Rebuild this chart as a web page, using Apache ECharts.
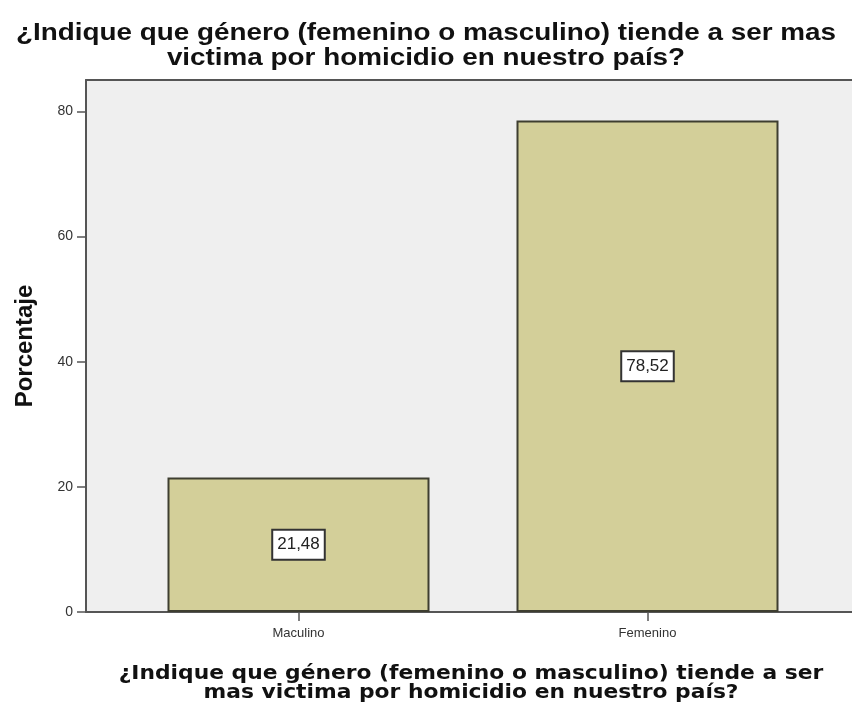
<!DOCTYPE html>
<html>
<head>
<meta charset="utf-8">
<script src="https://cdn.jsdelivr.net/npm/echarts@6/dist/echarts.min.js"></script>
<style>
  html, body { margin: 0; padding: 0; background: #fff; }
  #chart { width: 852px; height: 714px; }
</style>
</head>
<body>
<div id="chart"></div>
<script>
// data
const categories = ['Maculino', 'Femenino']
const percentages = [21.48, 78.52]
const yTicks = [0, 20, 40, 60, 80]

const titleText = '¿Indique que género (femenino o masculino) tiende a ser mas\nvictima por homicidio en nuestro país?'
const xTitle = '¿Indique que género (femenino o masculino) tiende a ser\nmas victima por homicidio en nuestro país?'

const chart = echarts.init(document.getElementById('chart'))

const axisColor = '#555'

const option = {
  animation: false,
  backgroundColor: '#fff',
  // titles are drawn as graphic text so they can be stretched like the picture
  graphic: [{
    type: 'text',
    x: 426,
    y: 21,
    scaleX: 1.16,
    style: {
      text: titleText,
      textAlign: 'center',
      textVerticalAlign: 'top',
      font: 'bold 24px "Liberation Sans", Arial, sans-serif',
      lineHeight: 25,
      fill: '#111'
    }
  }, {
    type: 'text',
    x: 471,
    y: 664,
    scaleX: 1.09,
    style: {
      text: xTitle,
      textAlign: 'center',
      textVerticalAlign: 'top',
      font: 'bold 20px "DejaVu Sans", Verdana, sans-serif',
      lineHeight: 19,
      fill: '#111'
    }
  }],
  grid: [{
    // frame with grey background
    left: 86, right: 0, top: 80, bottom: 102,
    outerBoundsMode: 'none',
    containLabel: false,
    show: true,
    backgroundColor: '#efefef',
    borderWidth: 0
  }, {
    // inner region holding the bars
    left: 124, right: 30, top: 80, bottom: 102,
    outerBoundsMode: 'none',
    containLabel: false
  }],
  xAxis: [{
    gridIndex: 0,
    type: 'value',
    min: 0, max: 1,
    axisLine: { show: true, lineStyle: { color: axisColor, width: 2 } },
    axisTick: { show: false },
    axisLabel: { show: false },
    splitLine: { show: false }
  }, {
    gridIndex: 0,
    type: 'value',
    position: 'top',
    min: 0, max: 1,
    axisLine: { show: true, lineStyle: { color: axisColor, width: 2 } },
    axisTick: { show: false },
    axisLabel: { show: false },
    splitLine: { show: false }
  }, {
    gridIndex: 1,
    type: 'category',
    data: categories,
    axisLine: { show: false },
    axisTick: { show: true, alignWithLabel: true, length: 9, lineStyle: { color: axisColor, width: 1.5 } },
    axisLabel: {
      margin: 15,
      fontFamily: '"Liberation Sans", Arial, sans-serif',
      fontSize: 13,
      color: '#333'
    }
  }],
  yAxis: [{
    gridIndex: 0,
    type: 'value',
    min: 0, max: 85,
    axisLine: { show: true, lineStyle: { color: axisColor, width: 2 } },
    axisTick: { show: true, length: 9, customValues: yTicks, lineStyle: { color: axisColor, width: 1.5 } },
    axisLabel: {
      customValues: yTicks,
      margin: 13,
      fontFamily: '"Liberation Sans", Arial, sans-serif',
      fontSize: 14,
      color: '#333'
    },
    splitLine: { show: false },
    name: 'Porcentaje',
    nameLocation: 'middle',
    nameGap: 49,
    nameTextStyle: {
      fontFamily: '"Liberation Sans", Arial, sans-serif',
      fontWeight: 'bold',
      fontSize: 24,
      color: '#111'
    }
  }, {
    gridIndex: 1,
    type: 'value',
    min: 0, max: 85,
    show: false
  }],
  series: [{
    type: 'bar',
    xAxisIndex: 2,
    yAxisIndex: 1,
    barWidth: 262,
    data: percentages,
    itemStyle: {
      color: '#d3cf99',
      borderColor: '#3e3e30',
      borderWidth: 2
    },
    label: {
      show: true,
      position: 'inside',
      formatter: function (p) {
        return p.value.toFixed(2).replace('.', ',')
      },
      fontFamily: '"Liberation Sans", Arial, sans-serif',
      fontSize: 17,
      color: '#222',
      backgroundColor: '#fff',
      borderColor: '#333',
      borderWidth: 2,
      padding: [6, 4, 5, 4]
    }
  }]
}

chart.setOption(option)
</script>
</body>
</html>
